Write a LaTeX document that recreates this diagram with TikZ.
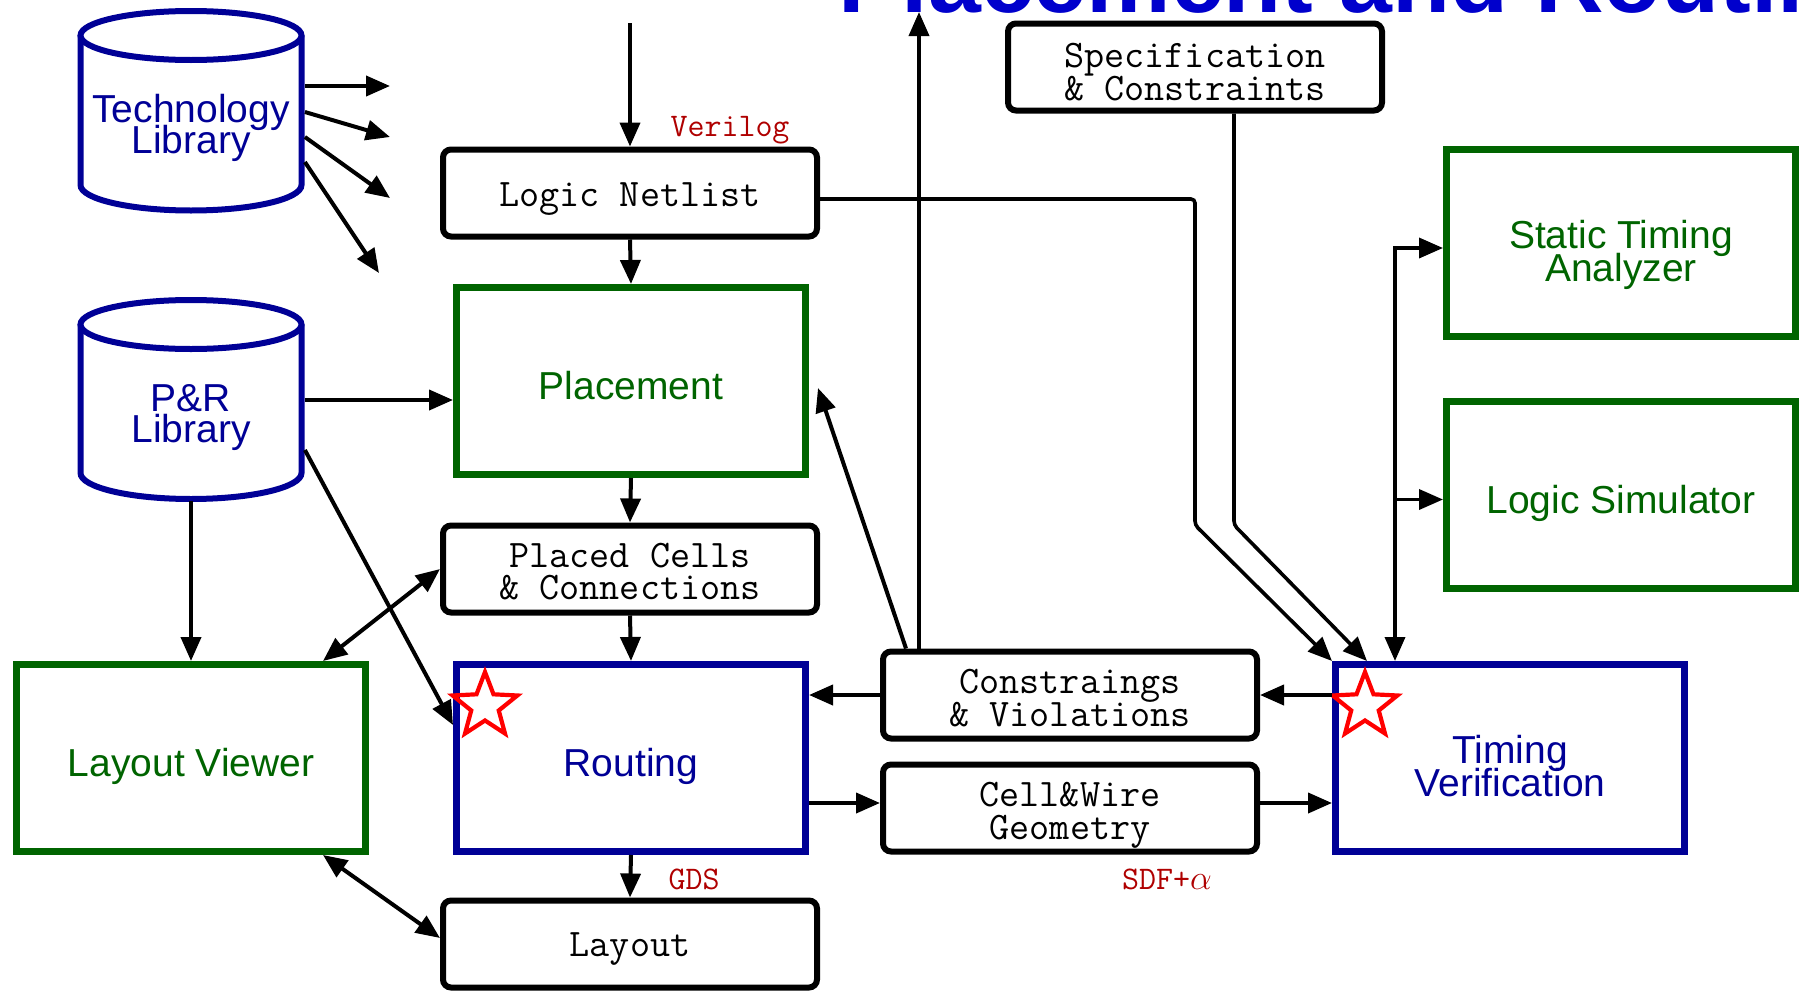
\documentclass[tikz,border=0pt]{standalone}
\usepackage{fontspec}
\setsansfont{Liberation Sans}
\usetikzlibrary{arrows.meta,shapes.geometric,calc}
\definecolor{dgreen}{RGB}{0,100,0}
\definecolor{dblue}{RGB}{0,0,150}
\definecolor{tblue}{RGB}{0,0,204}
\definecolor{dred}{RGB}{175,0,0}
\newcommand{\up}[1]{\rule{0pt}{#1pt}}
\newcommand{\tightlines}{\lineskiplimit=-50pt\relax}
\begin{document}
\begin{tikzpicture}[x=0.5pt,y=-0.5pt,
  >={Triangle[length=12pt,width=10pt]},
  conn/.style={line width=2pt,->},
  thinconn/.style={line width=1.8pt,->},
  dbl/.style={line width=2pt,<->},
  mbox/.style={draw, line width=3pt, rounded corners=4pt, minimum width=187pt, minimum height=43.5pt, inner sep=0pt, align=center, fill=white, font=\ttfamily\fontsize{19.5}{16.25}\selectfont\tightlines},
  tbox/.style={draw, line width=3.5pt, minimum width=174.5pt, minimum height=93.5pt, inner sep=0pt, align=center, font=\sffamily\fontsize{19.5}{16.5}\selectfont\tightlines},
  gbox/.style={tbox, draw=dgreen, text=dgreen},
  bbox/.style={tbox, draw=dblue, text=dblue},
  cyl/.style={draw=dblue, line width=3pt},
  cyltext/.style={text=dblue, align=center, inner sep=0pt, minimum width=113.5pt, font=\sffamily\fontsize{19.5}{15.75}\selectfont\tightlines},
  lbl/.style={text=dred, anchor=base, inner sep=0pt, font=\ttfamily\fontsize{16.5}{16.5}\selectfont},
  pstar/.style={star, star points=5, star point ratio=2.35, minimum size=34pt, inner sep=0pt, draw=red, line width=2.1pt},
]
\useasboundingbox (0,0) rectangle (1800,991);
\clip (0,0) rectangle (1800,991);

% title (clipped at top)
\node[anchor=base west, inner sep=0pt, text=tblue, font=\sffamily\bfseries\fontsize{47.5}{50}\selectfont] (title) at (838,12) {Placement and Routing};

% cylinders
\draw[cyl] (80.5,35.5) -- (80.5,185) arc[start angle=180,end angle=360,x radius=55.25pt,y radius=12.75pt] -- (301.5,35.5);
\draw[cyl] (191,35.5) ellipse[x radius=55.25pt,y radius=12.25pt];
\node[cyltext] (tl) at (191,128) {Technology\\Library};

\draw[cyl] (80.5,324.5) -- (80.5,473) arc[start angle=180,end angle=360,x radius=55.25pt,y radius=13pt] -- (301.5,324.5);
\draw[cyl] (191,324.5) ellipse[x radius=55.25pt,y radius=12.25pt];
\node[cyltext] (pr) at (191,417.5) {P\&R\\Library};

% boxes
\node[mbox] (ln) at (630,193) {\up{18.3}Logic Netlist};
\node[gbox] (pl) at (631,381) {\up{19}Placement};
\node[mbox] (pc) at (630,569) {\up{14.5}Placed Cells\\\& Connections};
\node[bbox] (rt) at (631,758) {\up{23}Routing};
\node[gbox] (lv) at (191,758) {\up{23}Layout Viewer};
\node[mbox] (lay) at (630,944) {\up{17.3}Layout};
\node[mbox] (sp) at (1195,67) {\up{17.25}Specification\\\& Constraints};
\node[mbox] (cv) at (1070,695) {\up{15.25}Constraings\\\& Violations};
\node[mbox] (cw) at (1070,808) {\up{19.5}Cell\&Wire\\Geometry};
\node[bbox] (tv) at (1510,758) {\up{22.5}Timing\\Verification};
\node[gbox] (sta) at (1621,243) {\up{26}Static Timing\\Analyzer};
\node[gbox] (ls) at (1621,494.5) {\up{22.6}Logic Simulator};

% stars
\node[pstar] (s1) at (485,706) {};
\node[pstar] (s2) at (1365,706) {};

% labels
\node[lbl] (vl) at (730,136) {Verilog};
\node[lbl] (gds) at (694,889) {GDS};
\node[lbl] (sdf) at (1167,889) {SDF+$\alpha$};

% coordinates
\coordinate (vin) at (630,23);
\coordinate (t1) at (390,86);
\coordinate (t2) at (390,137);
\coordinate (t3) at (390,198);
\coordinate (t4) at (379,273);
\coordinate (prp) at ($(pr.east)+(0,-17.5)$);
\coordinate (prb) at (191,501);
\coordinate (plr) at (818,388);
\coordinate (upend) at (919,12);
\coordinate (b1) at (1195,525);
\coordinate (b2) at (1234,525);
\coordinate (busx) at (1397,0);

% connectors
\draw[conn] (vin) -- (ln.north);
\draw[conn] (ln.south) -- (pl.north);
\draw[conn] (pl.south) -- (pc.north);
\draw[conn] (pc.south) -- (rt.north);
\draw[conn] (rt.south) -- (lay.north);

\draw[conn] (tl.east |- t1) -- (t1);
\draw[conn] ($(tl.east)+(0,-16)$) -- (t2);
\draw[conn] ($(tl.east)+(0,9)$) -- (t3);
\draw[conn] ($(tl.east)+(0,34)$) -- (t4);

\draw[conn] (prp) -- (prp -| pl.west);
\draw[conn] ($(pr.east)+(0,32.5)$) -- ($(rt.west)+(0,-33)$);
\draw[conn] (prb) -- (lv.north);

\draw[dbl] ($(lv.north east)+(-46,0)$) -- (pc.west);
\draw[dbl] ($(lv.south east)+(-46,0)$) -- ($(lay.west)+(0,-6)$);

\draw[conn] (cv.west) -- (cv.west -| rt.east);
\draw[conn] ($(cw.west -| rt.east)+(0,-5)$) -- ($(cw.west)+(0,-5)$);
\draw[conn] ($(cw.east)+(0,-5)$) -- ($(cw.east -| tv.west)+(0,-5)$);
\draw[conn] (cv.east -| tv.west) -- (cv.east);

\draw[conn] ($(cv.north west)+(26,0)$) -- (plr);
\draw[thinconn] (cv.north west -| upend) -- (upend);

\draw[thinconn, rounded corners=2pt] ($(ln.east)+(0,6)$) -| (b1) -- (tv.north west);
\draw[thinconn, rounded corners=2pt] ($(sp.south)+(39,0)$) -- (b2) -- ($(tv.north west)+(35,0)$);

\draw[thinconn, <->] ($(sta.west)+(0,5)$) -| ($(tv.north west)+(63,0)$);
\draw[thinconn] ($(ls.west -| busx)+(0,5)$) -- ($(ls.west)+(0,5)$);
\end{tikzpicture}
\end{document}
